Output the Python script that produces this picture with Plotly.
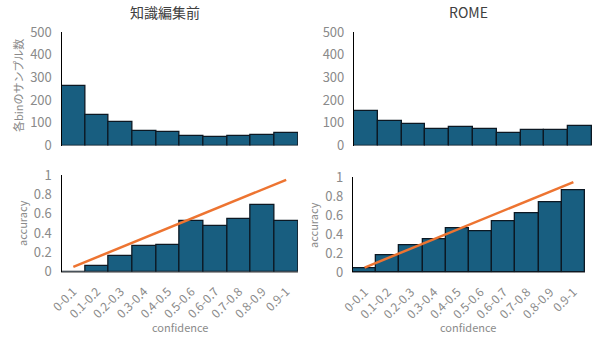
import plotly.graph_objects as go

# confidence bins
bins = ["0-0.1", "0.1-0.2", "0.2-0.3", "0.3-0.4", "0.4-0.5",
        "0.5-0.6", "0.6-0.7", "0.7-0.8", "0.8-0.9", "0.9-1"]
bin_centers = [0.05, 0.15, 0.25, 0.35, 0.45, 0.55, 0.65, 0.75, 0.85, 0.95]

# samples per bin
count_before = [263, 133, 104, 64, 58, 44, 37, 43, 47, 53]
count_rome = [151, 106, 94, 74, 81, 72, 54, 68, 68, 85]

# accuracy per bin
acc_before = [0.0, 0.062, 0.166, 0.266, 0.272, 0.52, 0.469, 0.541, 0.69, 0.52]
acc_rome = [0.046, 0.179, 0.288, 0.351, 0.463, 0.428, 0.537, 0.621, 0.74, 0.86]

titles = ["知識編集前", "ROME"]
count_ticks = [0, 100, 200, 300, 400, 500]
acc_ticks = [0, 0.2, 0.4, 0.6, 0.8, 1]
acc_tick_text = ["0", "0.2", "0.4", "0.6", "0.8", "1"]

W, H = 593, 338
BAR = "#185e80"
EDGE = "#0c1823"
LINE = "#ed7431"
GREY = "#8a8a8a"
FONT = "Noto Sans CJK JP"


def px_x(a, b):
    return [a / W, b / W]


def px_y(top, bottom):
    return [1 - bottom / H, 1 - top / H]


fig = go.Figure()

panels = [
    # (xaxis, yaxis, values, x domain, y domain, range)
    ("x", "y", count_before, px_x(61.5, 298), px_y(32, 145.5), [0, 500]),
    ("x2", "y2", count_rome, px_x(354, 592), px_y(32, 145.5), [0, 500]),
    ("x3", "y3", acc_before, px_x(61.5, 298), px_y(175, 271.7), [0, 1]),
    ("x4", "y4", acc_rome, px_x(353, 585), px_y(177.3, 272.3), [0, 1]),
]

for xa, ya, vals, xd, yd, rng in panels:
    fig.add_trace(go.Bar(
        x=bins, y=vals, xaxis=xa, yaxis=ya,
        marker=dict(color=BAR, line=dict(color=EDGE, width=1.3)),
        showlegend=False, hoverinfo="skip",
    ))

# perfect-calibration reference line
for xa, ya in [("x3", "y3"), ("x4", "y4")]:
    fig.add_trace(go.Scatter(
        x=bins, y=bin_centers, xaxis=xa, yaxis=ya, mode="lines",
        line=dict(color=LINE, width=2.5), showlegend=False, hoverinfo="skip",
    ))

layout = dict(
    width=W, height=H, margin=dict(l=0, r=0, t=0, b=0),
    paper_bgcolor="white", plot_bgcolor="white",
    bargap=0, font=dict(family=FONT, color=GREY, size=13),
)

for i, (xa, ya, vals, xd, yd, rng) in enumerate(panels):
    xk = "xaxis" if i == 0 else f"xaxis{i + 1}"
    yk = "yaxis" if i == 0 else f"yaxis{i + 1}"
    is_bottom = i >= 2
    layout[xk] = dict(
        domain=xd, anchor=ya, type="category", range=[-0.5, 9.5],
        showgrid=False, zeroline=False,
        showline=is_bottom, linecolor="#9a9a9a", linewidth=1.3, layer="below traces",
        ticks="", showticklabels=is_bottom, tickangle=-45, automargin=False,
        tickfont=dict(size=12, color=GREY, family=FONT),
        ticklabelstandoff=7,
    )
    layout[yk] = dict(
        domain=yd, anchor=xa, range=rng, showgrid=False, zeroline=False,
        showline=True, linecolor="black", linewidth=1.2, ticks="",
        tickvals=acc_ticks if is_bottom else count_ticks,
        ticktext=acc_tick_text if is_bottom else [str(v) for v in count_ticks],
        tickfont=dict(size=13, color=GREY, family=FONT),
        ticklabelstandoff=6, automargin=False,
    )

fig.update_layout(**layout)


def label(text, x, y, size, color, angle=0):
    fig.add_annotation(text=text, x=x / W, y=1 - y / H, xref="paper", yref="paper",
                       xanchor="center", yanchor="middle",
                       showarrow=False, textangle=angle,
                       font=dict(size=size, color=color, family=FONT))


label(titles[0], 165, 12, 14, "#404040")
label(titles[1], 468, 12, 14, "#404040")
label("各binのサンプル数", 18, 86, 11, GREY, -90)
label("accuracy", 22, 223, 11, GREY, -90)
label("accuracy", 313, 225, 11, GREY, -90)
label("confidence", 180, 327, 11, GREY)
label("confidence", 468, 327, 11, GREY)

fig.write_html("out.html")
